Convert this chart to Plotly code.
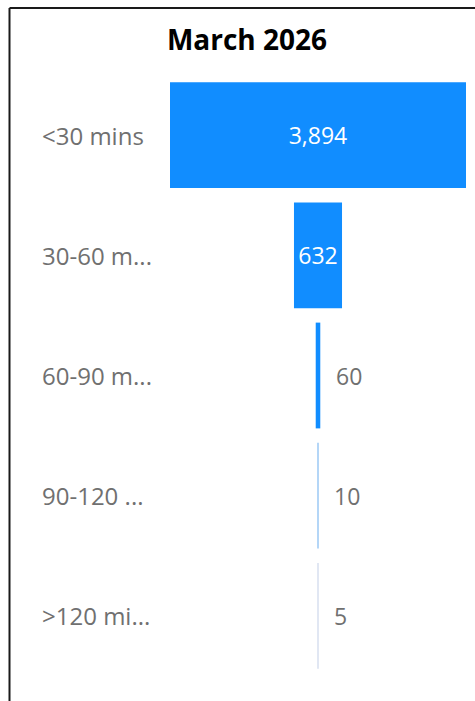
import plotly.graph_objects as go

categories = ["<30 mins", "30-60 mins", "60-90 mins", "90-120 mins", ">120 mins"]
category_labels = ["<30 mins", "30-60 m...", "60-90 m...", "90-120 ...", ">120 mi..."]
values = [3894, 632, 60, 10, 5]
title_text = "March 2026"

# Visual styling: very thin bars render faded in the original
bar_colors = ["#118DFF", "#118DFF", "#118DFF", "#B4D6F7", "#E1E7F3"]
inside_flags = [True, True, False, False, False]

W, H = 475, 701
ml, mr, mt, mb = 170, 9, 75, 25
pw = W - ml - mr
ph = H - mt - mb

def px_to_paper_x(px):
    return (px - ml) / pw

def px_to_paper_y(py):
    return (H - mb - py) / ph

half = max(values) / 2

inside_text = [f"{v:,}" if f else "" for v, f in zip(values, inside_flags)]

fig = go.Figure()
fig.add_trace(go.Funnel(
    y=categories,
    x=values,
    text=inside_text,
    textinfo="text",
    marker=dict(color=bar_colors, line=dict(width=0)),
    connector=dict(visible=False),
    textposition="inside",
    insidetextanchor="middle",
    insidetextfont=dict(color="white", size=23, family="Open Sans"),
    constraintext="none",
    cliponaxis=False,
    hoverinfo="skip",
))

annotations = []
for cat, lab in zip(categories, category_labels):
    annotations.append(dict(
        x=px_to_paper_x(40), xref="paper", xanchor="left",
        y=cat, yref="y", yanchor="middle",
        text=lab, showarrow=False,
        font=dict(color="#707070", size=24, family="Open Sans"),
    ))

for cat, v, f in zip(categories, values, inside_flags):
    if not f:
        annotations.append(dict(
            x=v / 2, xref="x", xanchor="left", xshift=14,
            y=cat, yref="y", yanchor="middle",
            text=f"{v:,}", showarrow=False,
            font=dict(color="#707070", size=23, family="Open Sans"),
        ))

shapes = [
    dict(type="line", xref="paper", yref="paper",
         x0=px_to_paper_x(9.5), x1=px_to_paper_x(9.5),
         y0=px_to_paper_y(H + 2), y1=px_to_paper_y(8),
         line=dict(color="#1a1a1a", width=2)),
    dict(type="line", xref="paper", yref="paper",
         x0=px_to_paper_x(9.5), x1=px_to_paper_x(W + 2),
         y0=px_to_paper_y(8), y1=px_to_paper_y(8),
         line=dict(color="#1a1a1a", width=2)),
]

fig.update_layout(
    width=W, height=H,
    margin=dict(l=ml, r=mr, t=mt, b=mb, pad=0),
    paper_bgcolor="white", plot_bgcolor="white",
    title=dict(text="<b>" + title_text + "</b>", x=247 / W, xanchor="center",
               xref="container", y=1 - 40 / H, yanchor="middle", yref="container",
               font=dict(family="Open Sans", size=28, color="black")),
    xaxis=dict(visible=False, range=[-half, half], fixedrange=True),
    yaxis=dict(showticklabels=False, showgrid=False, zeroline=False,
               categoryorder="array", categoryarray=categories, autorange="reversed"),
    funnelgap=0.12,
    showlegend=False,
    annotations=annotations,
    shapes=shapes,
)

fig.write_html("out.html")
